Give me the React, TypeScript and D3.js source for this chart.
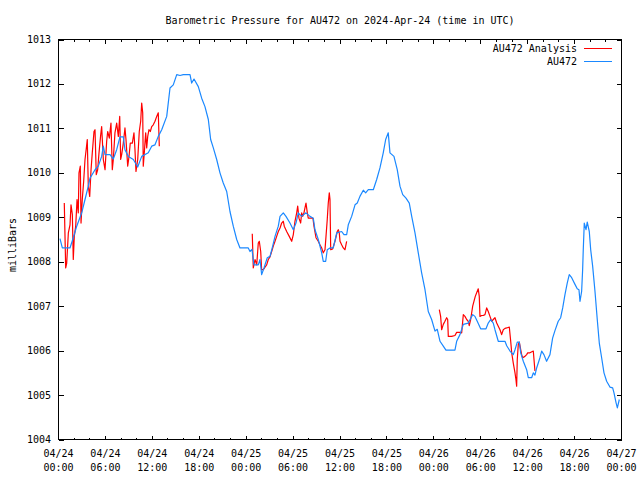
import * as d3 from "d3";
import React from "react";

// hours since 2024-04-24 00:00 UTC, pressure in mbar
const au472: [number, number][] = [
  [0.19, 1008.52], [0.49, 1008.31], [1.47, 1008.31], [1.89, 1008.54], [2.33, 1008.8],
  [2.97, 1009.1], [3.39, 1009.4], [3.81, 1009.7], [4.03, 1009.88], [4.67, 1010.07],
  [5.09, 1010.15], [5.52, 1010.37], [5.73, 1010.6], [5.95, 1010.41], [6.59, 1010.41],
  [7.01, 1010.31], [7.44, 1010.52], [7.86, 1010.81], [8.29, 1010.81], [8.5, 1010.52],
  [8.93, 1010.37], [9.57, 1010.3], [10.13, 1010.13], [10.64, 1010.37], [11.48, 1010.45],
  [11.92, 1010.6], [12.34, 1010.63], [12.76, 1010.82], [13.2, 1010.97], [13.84, 1011.27],
  [14.26, 1011.91], [14.68, 1011.98], [15.12, 1012.21], [15.54, 1012.19], [15.96, 1012.21],
  [16.6, 1012.21], [16.82, 1012.21], [17.03, 1012.02], [17.33, 1012.11], [17.88, 1011.94],
  [18.31, 1011.68], [18.73, 1011.49], [19.16, 1011.2], [19.46, 1010.75], [19.8, 1010.56],
  [20.23, 1010.3], [20.65, 1010.0], [21.07, 1009.77], [21.51, 1009.58], [21.93, 1009.13],
  [22.35, 1008.8], [22.79, 1008.5], [23.21, 1008.31], [24.27, 1008.31], [24.49, 1008.23],
  [24.74, 1008.28], [25.0, 1007.93], [25.55, 1007.93], [25.77, 1008.05], [25.98, 1007.71],
  [26.28, 1007.86], [26.7, 1008.09], [27.05, 1008.12], [27.39, 1008.35], [27.69, 1008.57],
  [28.11, 1008.8], [28.33, 1009.02], [28.75, 1009.1], [29.09, 1009.02], [29.6, 1008.87],
  [30.03, 1008.72], [30.37, 1008.87], [30.66, 1009.1], [31.1, 1009.02], [31.65, 1009.1],
  [32.16, 1009.02], [32.58, 1008.98], [32.8, 1008.72], [33.22, 1008.5], [33.66, 1008.2],
  [33.86, 1008.01], [34.17, 1008.01], [34.37, 1008.27], [34.72, 1008.31], [35.14, 1008.31],
  [35.58, 1008.65], [36.21, 1008.68], [36.51, 1008.61], [36.85, 1008.61], [37.06, 1008.83],
  [37.49, 1009.02], [37.92, 1009.28], [38.21, 1009.32], [38.55, 1009.47], [38.98, 1009.61],
  [39.28, 1009.55], [39.62, 1009.62], [40.26, 1009.62], [40.69, 1009.85], [41.11, 1010.11],
  [41.53, 1010.45], [41.84, 1010.75], [42.17, 1010.9], [42.39, 1010.45], [42.9, 1010.37],
  [43.32, 1010.07], [43.67, 1009.7], [44.02, 1009.51], [44.44, 1009.43], [44.86, 1009.32],
  [45.17, 1009.02], [45.59, 1008.65], [46.01, 1008.2], [46.44, 1007.75], [46.87, 1007.37],
  [47.29, 1006.88], [47.72, 1006.7], [48.15, 1006.44], [48.44, 1006.48], [48.79, 1006.21],
  [49.21, 1006.1], [49.55, 1006.01], [50.7, 1006.01], [50.92, 1006.21], [51.34, 1006.36],
  [51.77, 1006.59], [52.4, 1006.62], [52.97, 1006.81], [53.26, 1006.77], [53.55, 1006.66],
  [53.99, 1006.49], [54.67, 1006.49], [54.96, 1006.62], [55.27, 1006.7], [55.6, 1006.62],
  [55.82, 1006.47], [56.24, 1006.21], [57.1, 1006.21], [57.32, 1006.11], [57.74, 1005.99],
  [58.16, 1005.91], [58.38, 1006.02], [58.67, 1006.19], [58.93, 1006.19], [59.11, 1005.95],
  [59.44, 1005.76], [59.87, 1005.57], [60.08, 1005.39], [60.51, 1005.39], [60.72, 1005.5],
  [60.93, 1005.45], [61.15, 1005.61], [61.57, 1005.84], [61.79, 1005.99], [62.08, 1005.91],
  [62.42, 1005.76], [62.85, 1005.91], [63.19, 1006.28], [63.49, 1006.45], [63.91, 1006.66],
  [64.22, 1006.74], [64.48, 1006.96], [64.77, 1007.26], [65.06, 1007.52], [65.32, 1007.71],
  [65.63, 1007.64], [66.05, 1007.49], [66.34, 1007.39], [66.56, 1007.37], [66.69, 1007.11],
  [66.9, 1007.33], [67.03, 1007.82], [67.11, 1008.27], [67.24, 1008.87], [67.46, 1008.72],
  [67.62, 1008.89], [67.88, 1008.68], [68.06, 1008.27], [68.31, 1007.9], [68.61, 1007.33],
  [68.9, 1006.7], [69.16, 1006.17], [69.46, 1005.84], [69.76, 1005.5], [70.1, 1005.31],
  [70.52, 1005.18], [70.87, 1005.16], [71.04, 1005.05], [71.3, 1004.83], [71.47, 1004.71],
  [71.72, 1004.9],
];

const analysisDay1: [number, number][] = [
  [0.74, 1009.32], [0.92, 1007.86], [1.05, 1007.97], [1.26, 1008.65], [1.47, 1008.83],
  [1.6, 1009.28], [1.77, 1009.06], [1.89, 1008.05], [2.02, 1008.57], [2.2, 1008.8],
  [2.37, 1009.4], [2.53, 1009.1], [2.62, 1010.0], [2.79, 1010.15], [2.88, 1008.87],
  [3.04, 1009.4], [3.22, 1009.81], [3.39, 1010.3], [3.56, 1010.56], [3.68, 1010.75],
  [3.81, 1009.7], [3.99, 1009.47], [4.16, 1010.07], [4.32, 1010.45], [4.54, 1010.93],
  [4.67, 1010.97], [4.83, 1009.96], [5.01, 1010.07], [5.18, 1010.45], [5.4, 1010.86],
  [5.52, 1011.04], [5.73, 1010.3], [5.95, 1010.07], [6.16, 1010.71], [6.29, 1010.93],
  [6.5, 1010.78], [6.71, 1011.12], [6.88, 1010.07], [7.01, 1010.3], [7.22, 1010.9],
  [7.44, 1011.12], [7.65, 1010.82], [7.83, 1011.27], [7.95, 1010.3], [8.08, 1010.41],
  [8.29, 1010.67], [8.5, 1011.01], [8.63, 1010.75], [8.85, 1010.15], [9.02, 1010.37],
  [9.18, 1010.67], [9.44, 1010.67], [9.65, 1010.9], [9.78, 1010.52], [9.91, 1010.03],
  [10.13, 1010.3], [10.33, 1010.93], [10.51, 1011.16], [10.64, 1011.57], [10.77, 1011.35],
  [10.84, 1010.15], [10.97, 1010.45], [11.15, 1010.9], [11.28, 1010.56], [11.41, 1010.82],
  [11.57, 1010.97], [11.74, 1010.93], [11.92, 1011.04], [12.12, 1011.08], [12.34, 1011.16],
  [12.56, 1011.27], [12.76, 1011.35], [12.89, 1010.6],
];

const analysisDay2: [number, number][] = [
  [24.78, 1008.63], [24.91, 1007.86], [25.13, 1008.05], [25.35, 1007.93], [25.55, 1008.42],
  [25.68, 1008.46], [25.86, 1008.23], [25.98, 1007.82], [26.19, 1007.82], [26.41, 1007.88],
  [26.62, 1007.93], [26.83, 1008.05], [27.05, 1008.11], [27.26, 1008.23], [27.47, 1008.35],
  [27.69, 1008.46], [27.9, 1008.57], [28.11, 1008.68], [28.33, 1008.76], [28.54, 1008.87],
  [28.75, 1008.91], [28.87, 1008.8], [29.18, 1008.68], [29.51, 1008.57], [29.82, 1008.46],
  [30.03, 1008.61], [30.24, 1008.91], [30.46, 1009.1], [30.59, 1009.25], [30.75, 1008.98],
  [30.97, 1008.87], [31.1, 1009.1], [31.23, 1009.02], [31.39, 1009.1], [31.52, 1009.21],
  [31.65, 1009.32], [31.82, 1009.1], [31.94, 1008.98], [32.54, 1008.98], [32.67, 1008.8],
  [32.93, 1008.54], [33.22, 1008.46], [33.44, 1008.38], [33.66, 1008.31], [33.86, 1008.2],
  [34.08, 1008.27], [34.21, 1008.57], [34.37, 1008.95], [34.5, 1009.32], [34.63, 1009.55],
  [34.72, 1009.4], [34.81, 1008.27], [35.06, 1008.29], [35.36, 1008.46], [35.65, 1008.68],
  [35.78, 1008.72], [35.91, 1008.65], [36.0, 1008.46], [36.21, 1008.38], [36.42, 1008.31],
  [36.64, 1008.27], [36.85, 1008.46],
];

const analysisDay3: [number, number][] = [
  [48.7, 1006.92], [48.87, 1006.77], [49.0, 1006.47], [49.21, 1006.59], [49.42, 1006.66],
  [49.64, 1006.74], [49.77, 1006.7], [49.85, 1006.32], [50.28, 1006.32], [50.7, 1006.34],
  [50.92, 1006.41], [51.34, 1006.41], [51.56, 1006.4], [51.77, 1006.81], [51.98, 1006.77],
  [52.2, 1006.7], [52.4, 1006.66], [52.53, 1006.56], [52.71, 1006.7], [52.97, 1007.0],
  [53.13, 1007.11], [53.3, 1007.22], [53.48, 1007.3], [53.68, 1007.39], [53.81, 1007.22],
  [53.9, 1006.77], [54.12, 1006.79], [54.32, 1006.79], [54.54, 1006.81], [54.76, 1006.96],
  [54.96, 1006.88], [55.18, 1006.77], [55.4, 1006.66], [55.6, 1006.7], [55.82, 1006.74],
  [56.04, 1006.62], [56.24, 1006.55], [56.46, 1006.47], [56.67, 1006.36], [56.88, 1006.47],
  [57.1, 1006.5], [57.32, 1006.51], [57.65, 1006.53], [57.83, 1006.21], [57.96, 1005.95],
  [58.16, 1005.72], [58.38, 1005.5], [58.5, 1005.35], [58.59, 1005.2], [58.67, 1005.8],
  [58.8, 1006.14], [58.93, 1006.19], [59.11, 1006.02], [59.23, 1005.91], [59.36, 1005.84],
  [59.65, 1005.87], [59.87, 1005.91], [60.0, 1005.95], [60.29, 1005.95], [60.72, 1005.99],
  [60.93, 1005.54],
];

const title = "Barometric Pressure for AU472 on 2024-Apr-24 (time in UTC)";
const yLabel = "milliBars";
const legendNames = ["AU472 Analysis", "AU472"];
const colors = ["#ff0000", "#1a88ff"];
const pressureTicks = [1004, 1005, 1006, 1007, 1008, 1009, 1010, 1011, 1012, 1013];

const start = Date.UTC(2024, 3, 24);
const toDate = (h: number) => new Date(start + h * 3600 * 1000);

export default function App() {
  const font = "'DejaVu Sans Mono', monospace";
  const left = 58.5, right = 621.5, top = 39.5, bottom = 439.5;

  const x = d3.scaleUtc().domain([toDate(0), toDate(72)]).range([left, right]);
  const y = d3.scaleLinear().domain([1004, 1013]).range([bottom, top]);

  const line = d3.line<[number, number]>()
    .x(d => x(toDate(d[0])))
    .y(d => y(d[1]));

  const majors = x.ticks(d3.utcHour.every(6)!);
  const minors = x.ticks(d3.utcHour.every(2)!).filter(d => d.getUTCHours() % 6 !== 0);
  const fmtDay = d3.utcFormat("%m/%d");
  const fmtTime = d3.utcFormat("%H:%M");

  return (
    <div style={{ position: "absolute", left: 0, top: 0 }}>
      <svg width={640} height={480} style={{ display: "block", background: "#fff" }}
        fontFamily={font} fontSize={10}>
        <text x={(left + right) / 2} y={24} textAnchor="middle">{title}</text>
        <text transform={`translate(16,245) rotate(-90)`} textAnchor="middle">{yLabel}</text>

        <g shapeRendering="crispEdges" stroke="#000">
          {pressureTicks.map(t => (
            <g key={t}>
              <line x1={left} x2={left + 5} y1={Math.round(y(t)) + 0.5} y2={Math.round(y(t)) + 0.5} />
              <line x1={right - 5} x2={right} y1={Math.round(y(t)) + 0.5} y2={Math.round(y(t)) + 0.5} />
            </g>
          ))}
          {majors.map((d, i) => (
            <g key={"M" + i}>
              <line x1={x(d)} x2={x(d)} y1={bottom} y2={bottom - 4} />
              <line x1={x(d)} x2={x(d)} y1={top} y2={top + 4} />
            </g>
          ))}
          {minors.map((d, i) => (
            <g key={"m" + i}>
              <line x1={x(d)} x2={x(d)} y1={bottom} y2={bottom - 2} />
              <line x1={x(d)} x2={x(d)} y1={top} y2={top + 2} />
            </g>
          ))}
        </g>

        {pressureTicks.map(t => (
          <text key={"l" + t} x={51} y={y(t) + 3.5} textAnchor="end">{t}</text>
        ))}
        {majors.map((d, i) => (
          <g key={"xl" + i}>
            <text x={x(d)} y={457} textAnchor="middle">{fmtDay(d)}</text>
            <text x={x(d)} y={471} textAnchor="middle">{fmtTime(d)}</text>
          </g>
        ))}

        <g fill="none" strokeWidth={1.2} strokeLinejoin="round">
          {[analysisDay1, analysisDay2, analysisDay3].map((seg, i) => (
            <path key={"a" + i} d={line(seg) || ""} stroke={colors[0]} />
          ))}
          <path d={line(au472) || ""} stroke={colors[1]} />
        </g>

        {legendNames.map((name, i) => (
          <g key={name}>
            <text x={577} y={52 + i * 13} textAnchor="end">{name}</text>
            <line x1={584} x2={612} y1={48.5 + i * 13} y2={48.5 + i * 13}
              stroke={colors[i]} shapeRendering="crispEdges" />
          </g>
        ))}

        <rect x={left} y={top} width={right - left} height={bottom - top}
          fill="none" stroke="#000" shapeRendering="crispEdges" />
      </svg>
    </div>
  );
}
